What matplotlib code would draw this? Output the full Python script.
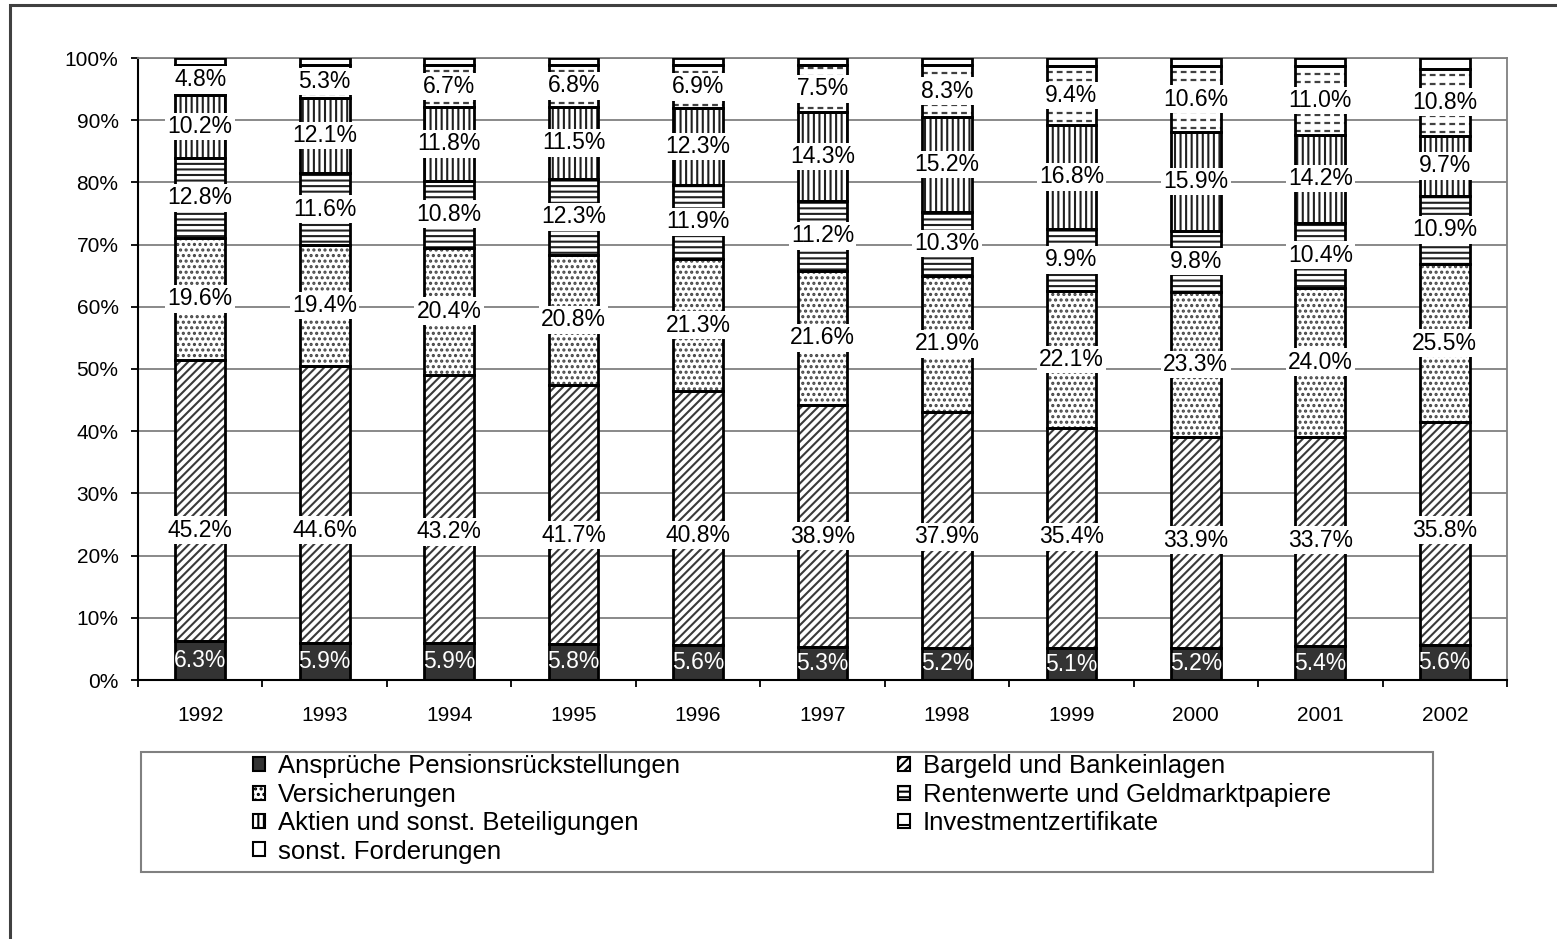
import matplotlib
matplotlib.use("Agg")
import matplotlib.pyplot as plt
from matplotlib.patches import Rectangle, Patch
import numpy as np

# data ###################
years = ["1992", "1993", "1994", "1995", "1996", "1997",
         "1998", "1999", "2000", "2001", "2002"]
pension = [6.3, 5.9, 5.9, 5.8, 5.6, 5.3, 5.2, 5.1, 5.2, 5.4, 5.6]
bargeld = [45.2, 44.6, 43.2, 41.7, 40.8, 38.9, 37.9, 35.4, 33.9, 33.7, 35.8]
versich = [19.6, 19.4, 20.4, 20.8, 21.3, 21.6, 21.9, 22.1, 23.3, 24.0, 25.5]
renten = [12.8, 11.6, 10.8, 12.3, 11.9, 11.2, 10.3, 9.9, 9.8, 10.4, 10.9]
aktien = [10.2, 12.1, 11.8, 11.5, 12.3, 14.3, 15.2, 16.8, 15.9, 14.2, 9.7]
invest = [4.8, 5.3, 6.7, 6.8, 6.9, 7.5, 8.3, 9.4, 10.6, 11.0, 10.8]
sonst = [1.1, 1.1, 1.2, 1.1, 1.2, 1.2, 1.2, 1.3, 1.3, 1.3, 1.7]
names = ["Ansprüche Pensionsrückstellungen", "Bargeld und Bankeinlagen",
         "Versicherungen", "Rentenwerte und Geldmarktpapiere",
         "Aktien und sonst. Beteiligungen", "Investmentzertifikate",
         "sonst. Forderungen"]
##########################

# label heights of the Bargeld labels (they sit lower than the centre)
bargeld_label_y = [24.1, 24.1, 23.8, 23.3, 23.3, 23.15, 23.0, 23.0,
                   22.5, 22.5, 24.1]

series = [pension, bargeld, versich, renten, aktien, invest, sonst]
# (facecolor, hatch, hatchcolor, show label)
styles = [
    ("#333333", None, "#333333", True),
    ("white", "////", "#3a3a3a", True),
    ("white", "...", "#444444", True),
    ("white", "---", "#202020", True),
    ("white", "|||", "#202020", True),
    ("white", None, "#404040", True),
    ("white", None, "#404040", False),
]

plt.rcParams.update({
    "font.family": ["Liberation Sans", "DejaVu Sans"],
    "font.size": 15,
    "hatch.linewidth": 1.5,
})

fig = plt.figure(figsize=(15.57, 9.39), dpi=100)
W, H = 1557, 939
ax = fig.add_axes([138/W, 1-680/H, (1507-138)/W, (680-58)/H])

# outer frame (only left/top visible in the original crop)
fig.patches.append(Rectangle((10/W, -0.2), 1.2, 1-5/H+0.2,
                             transform=fig.transFigure, fill=False,
                             edgecolor="#404040", linewidth=2.2))

x = np.arange(len(years))
bw = 0.4
lblsize = 16.5
bottom = np.zeros(len(years))
containers = []
for k, (vals, (fc, hatch, hc, lab)) in enumerate(zip(series, styles)):
    vals = np.array(vals)
    # hatch layer
    bars = ax.bar(x, vals, bw, bottom=bottom, color=fc, hatch=hatch,
                  edgecolor=hc, linewidth=0, zorder=2)
    # outline layer
    ax.bar(x, vals, bw, bottom=bottom, fill=False, edgecolor="black",
           linewidth=2, zorder=3)
    containers.append(bars)
    if lab:
        for i, (xi, b, v) in enumerate(zip(x, bottom, vals)):
            ypos = b + v/2
            if k == 1:
                ypos = bargeld_label_y[i]
            if k == 0:
                ax.text(xi, ypos, f"{v:.1f}%", ha="center", va="center",
                        color="white", fontsize=lblsize, zorder=5)
            else:
                ax.text(xi, ypos, f"{v:.1f}%", ha="center", va="center",
                        color="black", fontsize=lblsize, zorder=5,
                        bbox=dict(boxstyle="square,pad=0.1", fc="white",
                                  ec="none"))
    bottom = bottom + vals

# dashed hatch for Investmentzertifikate
for rect in containers[5]:
    x0, w = rect.get_x(), rect.get_width()
    y0, h = rect.get_y(), rect.get_height()
    ys = np.arange(y0 + 0.6, y0 + h, 1.3)
    lc = ax.hlines(ys, x0, x0 + w, colors="#404040", linewidth=1.6,
                   linestyles=(0, (2.6, 1.8)), zorder=2.5)
    lc.set_clip_path(rect)

# axes
ax.set_xlim(-0.5, len(years)-0.5)
ax.set_ylim(0, 100)
ax.set_yticks(np.arange(0, 101, 10))
ax.set_yticklabels([f"{v}%" for v in range(0, 101, 10)])
ax.set_xticks(x)
ax.set_xticklabels(years)
ax.set_xticks(np.arange(-0.5, len(years), 1), minor=True)
ax.tick_params(axis="x", which="major", length=0, pad=19, labelsize=15)
ax.tick_params(axis="x", which="minor", length=5, width=1.3, direction="out")
ax.tick_params(axis="y", length=5, width=1.3, direction="out", pad=9,
               labelsize=15)
ax.grid(True, axis="y", color="#808080", linewidth=1.3, zorder=0)
ax.set_axisbelow(True)
for s in ["left", "bottom"]:
    ax.spines[s].set_color("black")
    ax.spines[s].set_linewidth(1.5)
for s in ["top", "right"]:
    ax.spines[s].set_color("#808080")
    ax.spines[s].set_linewidth(1.3)

# legend
handles = []
for n, (fc, hatch, hc, lab) in zip(names, styles):
    hh = hatch
    if n == "Investmentzertifikate":
        hh = "-"
    handles.append(Patch(facecolor=fc, hatch=hh, edgecolor="black",
                         linewidth=1.5, label=n))
order = [0, 2, 4, 6, 1, 3, 5]
leg = fig.legend([handles[i] for i in order], [names[i] for i in order],
                 ncol=2, loc="center",
                 bbox_to_anchor=(792/W, 1-809/H),
                 frameon=False, fontsize=18.5, handlelength=0.47,
                 handleheight=0.47, handletextpad=0.5, labelspacing=0.17,
                 columnspacing=8.5, borderpad=0)
fig.patches.append(Rectangle((141/W, 1-872/H), (1433-141)/W, 120/H,
                             transform=fig.transFigure, fill=False,
                             edgecolor="#808080", linewidth=1.5))

fig.savefig("out.png", dpi=100)
